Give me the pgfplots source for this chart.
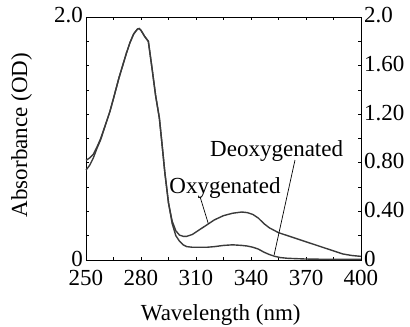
\documentclass[border=0pt]{standalone}
\usepackage{fontspec}
\setmainfont{Liberation Serif}
\usepackage{pgfplots}
\pgfplotsset{compat=1.18}
\definecolor{curve}{HTML}{3A3A3A}
\begin{document}
\fontsize{23bp}{27bp}\selectfont
\begin{tikzpicture}
\begin{axis}[
  name=ax1,
  scale only axis,
  width=275bp, height=243bp,
  xmin=250, xmax=400, ymin=0, ymax=2,
  xtick={250,265,280,295,310,325,340,355,370,385,400},
  xticklabels={250,,280,,310,,340,,370,,400},
  ytick={0,0.2,0.4,0.6,0.8,1.0,1.2,1.4,1.6,1.8,2.0},
  yticklabels={0,,,,,,,,,,2.0},
  tick align=inside,
  major tick length=3bp,
  tick style={black, line width=0.7pt},
  xtick pos=both, ytick pos=both,
  axis line style={black, line width=0.9pt},
  xticklabel style={inner sep=0pt, anchor=north, yshift=-10bp},
  yticklabel style={inner sep=0pt, anchor=east, xshift=-3bp, yshift=1.5bp},
  xlabel={Wavelength (nm)},
  xlabel style={at={(axis description cs:0.49,-0.247)}, anchor=base},
  ylabel={Absorbance (OD)},
  ylabel style={at={(axis description cs:-0.2145,0.514)}, anchor=base, rotate=0},
  clip=false,
]
\addplot[curve, line width=1.4pt] coordinates {
(250,0.82) (252,0.84) (254,0.87) (256,0.93) (258,1.00) (261,1.13) (263,1.22)
(265,1.33) (268,1.50) (270,1.60) (272,1.70) (274,1.79) (276,1.86) (278,1.90)
(279,1.905) (280,1.89) (282,1.84) (284,1.80) (286,1.58) (288,1.35) (290,1.17)
(291.5,0.95) (293,0.72) (295,0.47) (297,0.32) (299,0.24) (301,0.205) (303,0.195)
(305,0.195) (308,0.21) (312,0.25) (316,0.29) (320,0.33) (325,0.365) (330,0.385)
(335,0.395) (338,0.39) (341,0.375) (344,0.345) (347,0.30) (350,0.265) (355,0.225)
(360,0.20) (365,0.175) (370,0.15) (375,0.125) (380,0.10) (385,0.075) (390,0.05)
(395,0.037) (400,0.03)
};
\addplot[curve, line width=1.4pt] coordinates {
(250,0.74) (252,0.78) (254,0.84) (256,0.92) (258,0.99) (261,1.13) (263,1.22)
(265,1.33) (268,1.50) (270,1.60) (272,1.70) (274,1.79) (276,1.86) (278,1.90)
(279,1.905) (280,1.89) (282,1.84) (284,1.80) (286,1.58) (288,1.35) (290,1.17)
(291.5,0.95) (293,0.72) (295,0.47) (297,0.30) (299,0.20) (301,0.155) (303,0.125)
(305,0.11) (308,0.105) (312,0.105) (316,0.105) (320,0.11) (325,0.12) (330,0.125)
(335,0.12) (338,0.115) (341,0.105) (344,0.09) (347,0.065) (350,0.045) (353,0.03)
(356,0.02) (360,0.014) (370,0.008) (380,0.006) (390,0.005) (400,0.005)
};
\node[anchor=base, inner sep=0pt] at (axis cs:325.8,0.55) {Oxygenated};
\node[anchor=base, inner sep=0pt] at (axis cs:354,0.85) {Deoxygenated};
\draw[black, line width=0.7pt] (axis cs:312.2,0.521) -- (axis cs:316.7,0.30);
\draw[black, line width=0.7pt] (axis cs:364,0.823) -- (axis cs:352.6,0.041);
\end{axis}
\begin{axis}[
  scale only axis,
  width=275bp, height=243bp,
  xmin=250, xmax=400, ymin=0, ymax=2,
  hide x axis,
  axis y line*=right,
  ytick={0,0.4,0.8,1.2,1.6,2.0},
  yticklabels={0,0.40,0.80,1.20,1.60,2.0},
  major tick length=0pt,
  axis line style={black, line width=0.9pt},
  yticklabel style={inner sep=0pt, anchor=west, xshift=3bp, yshift=1.5bp},
]
\addplot[draw=none] coordinates {(250,0) (400,2)};
\end{axis}
\pgfresetboundingbox
\path[use as bounding box] ([shift={(-86bp,-67bp)}]ax1.south west) rectangle ([shift={(49bp,17bp)}]ax1.north east);
\end{tikzpicture}
\end{document}
